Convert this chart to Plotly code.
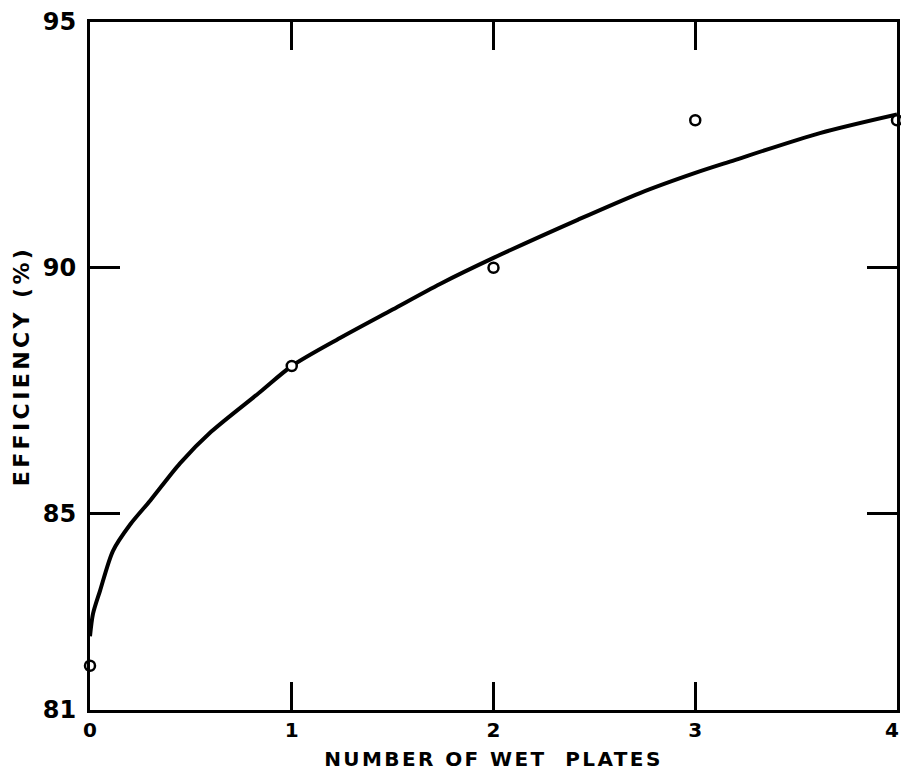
import plotly.graph_objects as go

# Measured data points
plates = [0, 1, 2, 3, 4]
efficiency = [81.9, 88.0, 90.0, 93.0, 93.0]

# Fitted curve
curve_x = [0, 0.015, 0.05, 0.114, 0.2, 0.3, 0.446, 0.6, 0.843, 1.0, 1.239, 1.5,
           1.735, 2.0, 2.42, 2.726, 3.0, 3.172, 3.618, 4.0]
curve_y = [82.5, 82.96, 83.43, 84.24, 84.78, 85.27, 86.02, 86.66, 87.47, 88.0, 88.57, 89.15,
           89.67, 90.2, 90.98, 91.52, 91.93, 92.16, 92.74, 93.12]

x_ticks = [0, 1, 2, 3, 4]
x_tick_labels = ["0", "1", "2", "3", "4\u2002"]
y_ticks = [81, 85, 90, 95]
y_tick_labels = ["81", "85", "90", "95"]

fig = go.Figure()
fig.add_trace(go.Scatter(x=curve_x, y=curve_y, mode="lines",
                         line=dict(color="black", width=4, shape="spline", smoothing=0.8),
                         hoverinfo="skip", cliponaxis=False))
fig.add_trace(go.Scatter(x=plates, y=efficiency, mode="markers",
                         marker=dict(symbol="circle", size=10, color="white",
                                     line=dict(color="black", width=2.5)),
                         cliponaxis=False))

font_family = "DejaVu Sans, Liberation Sans, Arial, sans-serif"
fig.update_layout(
    width=901, height=781,
    margin=dict(l=90, r=4, t=22, b=71),
    paper_bgcolor="white", plot_bgcolor="white",
    showlegend=False,
    font=dict(family=font_family, color="black"),
    xaxis=dict(range=[0, 4], tickvals=x_ticks, ticktext=x_tick_labels,
               ticks="inside", ticklen=28, tickwidth=2.5, tickcolor="black",
               showline=True, linewidth=3, linecolor="black", mirror="allticks",
               showgrid=False, zeroline=False, automargin=False, ticklabeloverflow="allow",
               tickfont=dict(size=20, family=font_family, color="black", weight="bold"),
               title=dict(text="NUMBER OF WET  PLATES", standoff=11,
                          font=dict(size=20, family=font_family, color="black", weight="bold"))),
    yaxis=dict(range=[81, 95], tickvals=y_ticks, ticktext=y_tick_labels,
               ticks="inside", ticklen=30, tickwidth=2.5, tickcolor="black",
               showline=True, linewidth=3, linecolor="black", mirror="allticks",
               showgrid=False, zeroline=False, automargin=False, ticklabelstandoff=6,
               ticklabeloverflow="allow",
               tickfont=dict(size=24, family=font_family, color="black", weight="bold"),
               title=dict(text="EFFICIENCY (%)", standoff=8,
                          font=dict(size=22, family=font_family, color="black", weight="bold"))),
)

post = """
document.body.style.margin = '0';
document.body.style.padding = '0';
document.documentElement.style.margin = '0';
var gd = document.getElementsByClassName('plotly-graph-div')[0];
function sp(){
  var xt = gd.querySelector('.xtitle'); if (xt) xt.style.letterSpacing = '2.4px';
  var yt = gd.querySelector('.ytitle'); if (yt) yt.style.letterSpacing = '3.4px';
}
sp();
gd.on('plotly_afterplot', sp);
"""
fig.write_html("out.html", post_script=post, config={"displayModeBar": False})
